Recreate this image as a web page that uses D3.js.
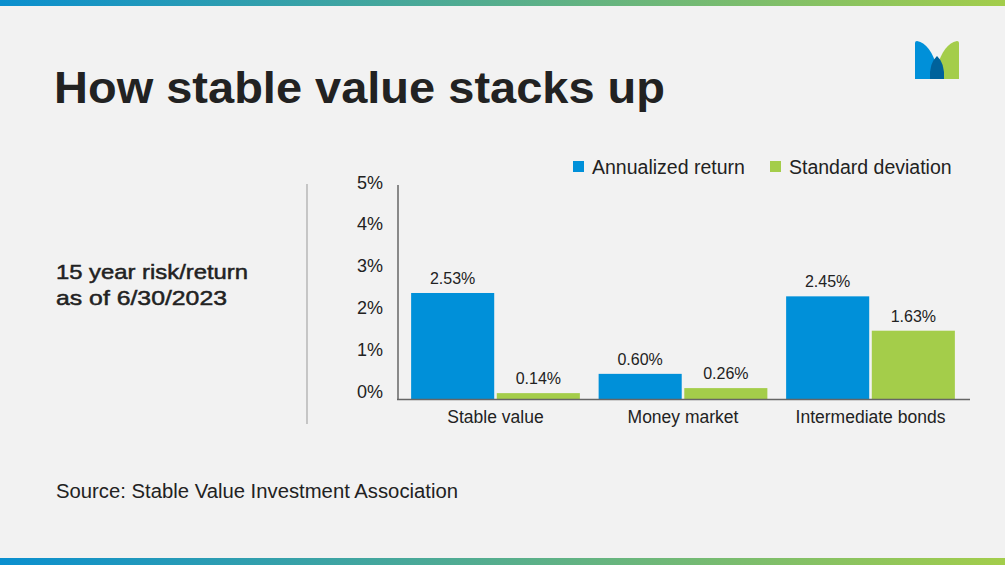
<!DOCTYPE html><html><head><script src="https://cdn.jsdelivr.net/npm/d3@7"></script>
<style>body{margin:0;background:#f2f2f2}svg{display:block;font-family:"Liberation Sans",Arial,sans-serif}</style></head><body>
<svg id="c" width="1005" height="565"></svg>
<script>
const categories=["Stable value","Money market","Intermediate bonds"];
const seriesNames=["Annualized return","Standard deviation"];
const annualized=[2.53,0.60,2.45];
const stdev=[0.14,0.26,1.63];
const ticks=[0,1,2,3,4,5];
const colors=["#0090d9","#a4cd4a"];
const svg=d3.select("#c");
const defs=svg.append("defs");
const g=defs.append("linearGradient").attr("id","gr");
g.append("stop").attr("offset","0").attr("stop-color","#0a8fcf");
g.append("stop").attr("offset","1").attr("stop-color","#a3cd4b");
svg.append("rect").attr("width",1005).attr("height",565).attr("fill","#f2f2f2");
svg.append("rect").attr("width",1005).attr("height",6).attr("fill","url(#gr)");
svg.append("rect").attr("y",558).attr("width",1005).attr("height",7).attr("fill","url(#gr)");
const L=svg.append("g").attr("transform","translate(915,41)");
L.append("path").attr("d","M0,2 Q0,0 2,0 Q16,3 22,27 L22,38 L0,38 Z").attr("fill","#0090d9");
L.append("path").attr("d","M44,2 Q44,0 42,0 Q28,3 22,27 L22,38 L44,38 Z").attr("fill","#a4cd4a");
L.append("path").attr("d","M15,38 Q14,22 22,15 Q30,22 29,38 Z").attr("fill","#00629b");
svg.append("text").attr("x",54).attr("y",103).attr("font-size",44).attr("font-weight",700).attr("fill","#222").attr("textLength",611).attr("lengthAdjust","spacingAndGlyphs").text("How stable value stacks up");
svg.append("text").attr("x",56).attr("y",279).attr("font-size",21).attr("fill","#222").attr("stroke","#222").attr("stroke-width",0.5).attr("textLength",192).attr("lengthAdjust","spacingAndGlyphs").text("15 year risk/return");
svg.append("text").attr("x",56).attr("y",305).attr("font-size",21).attr("fill","#222").attr("stroke","#222").attr("stroke-width",0.5).attr("textLength",171).attr("lengthAdjust","spacingAndGlyphs").text("as of 6/30/2023");
svg.append("text").attr("x",56).attr("y",498).attr("font-size",20).attr("fill","#222").attr("textLength",402).attr("lengthAdjust","spacingAndGlyphs").text("Source: Stable Value Investment Association");
svg.append("line").attr("x1",307).attr("x2",307).attr("y1",184).attr("y2",424).attr("stroke","#999");
const y=d3.scaleLinear().domain([0,5]).range([399,189.5]);
const x=d3.scaleBand().domain(categories).range([398,968]).paddingInner(0.1).paddingOuter(0.07);
const xs=d3.scaleBand().domain([0,1]).range([0,x.bandwidth()]).paddingInner(0.03);
ticks.forEach(t=>svg.append("text").attr("x",383).attr("y",y(t)-1).attr("text-anchor","end").attr("font-size",18).attr("fill","#222").text(t+"%"));
const data=[annualized,stdev];
categories.forEach((c,i)=>{data.forEach((s,j)=>{
 const bx=x(c)+xs(j);
 svg.append("rect").attr("x",bx).attr("y",y(s[i])).attr("width",xs.bandwidth()).attr("height",y(0)-y(s[i])).attr("fill",colors[j]);
 svg.append("text").attr("x",bx+xs.bandwidth()/2).attr("y",y(s[i])-9).attr("text-anchor","middle").attr("font-size",16).attr("fill","#222").text(s[i].toFixed(2)+"%");
});
 svg.append("text").attr("x",x(c)+x.bandwidth()/2).attr("y",423).attr("text-anchor","middle").attr("font-size",17.5).attr("fill","#222").text(c);
});
svg.append("line").attr("x1",398).attr("x2",398).attr("y1",185).attr("y2",400).attr("stroke","#666").attr("stroke-width",1.5);
svg.append("line").attr("x1",397).attr("x2",970).attr("y1",399.5).attr("y2",399.5).attr("stroke","#666").attr("stroke-width",1.5);
const lg=[[573,"Annualized return"],[770,"Standard deviation"]];
lg.forEach((l,j)=>{svg.append("rect").attr("x",l[0]).attr("y",161).attr("width",11).attr("height",11).attr("fill",colors[j]);
 svg.append("text").attr("x",l[0]+19).attr("y",174).attr("font-size",19.5).attr("fill","#222").text(seriesNames[j]);});
</script></body></html>
